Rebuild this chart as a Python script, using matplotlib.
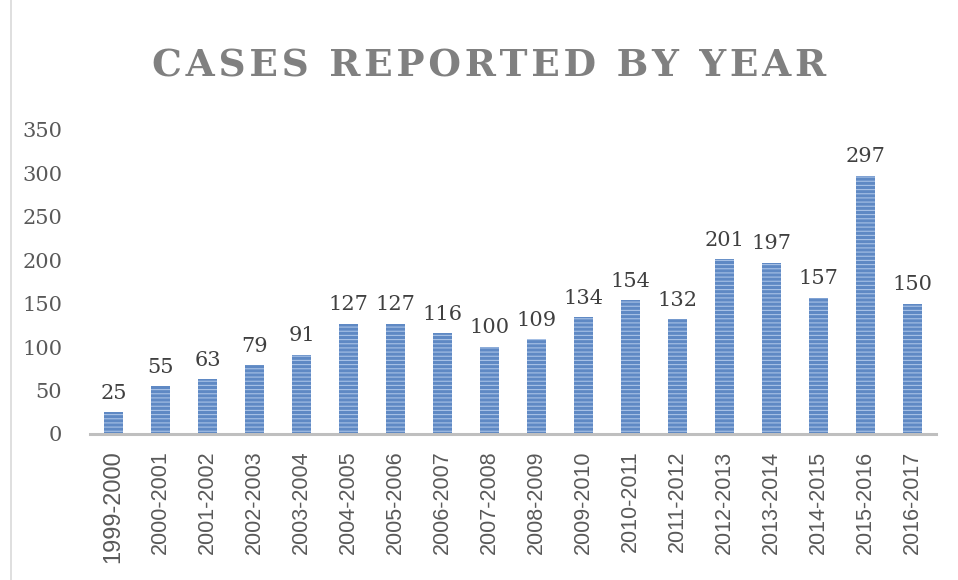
import numpy as np
import matplotlib.pyplot as plt

years = ['1999-2000', '2000-2001', '2001-2002', '2002-2003', '2003-2004', '2004-2005',
         '2005-2006', '2006-2007', '2007-2008', '2008-2009', '2009-2010', '2010-2011',
         '2011-2012', '2012-2013', '2013-2014', '2014-2015', '2015-2016', '2016-2017']
cases = [25, 55, 63, 79, 91, 127, 127, 116, 100, 109, 134, 154, 132, 201, 197, 157, 297, 150]

plt.rcParams['hatch.linewidth'] = 0.8

fig = plt.figure(figsize=(9.58, 5.8), dpi=100)
ax = fig.add_axes([0.094, 0.252, 0.883, 0.524])

x = np.arange(len(years))
bars = ax.bar(x, cases, width=0.41, color='#5f89c4', edgecolor='#a8c2e6',
              hatch='----', linewidth=0)

for xi, v in zip(x, cases):
    ax.text(xi, v + 11, str(v), ha='center', va='bottom', fontsize=15,
            family='DejaVu Serif', color='#404040')

ax.set_xlim(-0.5, len(years) - 0.5)
ax.set_ylim(0, 350)
ax.set_yticks(range(0, 351, 50))
ax.tick_params(axis='y', length=0, pad=20, labelsize=15, labelcolor='#595959')
for lab in ax.get_yticklabels():
    lab.set_family('DejaVu Serif')
ax.set_xticks(x)
ax.set_xticklabels(years, rotation=90, fontsize=15.5, color='#595959',
                   family='Liberation Sans')
ax.get_xticklabels()[0].set_fontsize(17)
ax.tick_params(axis='x', length=0, pad=12)

for s in ['top', 'right', 'left']:
    ax.spines[s].set_visible(False)
ax.spines['bottom'].set_color('#bfbfbf')
ax.spines['bottom'].set_linewidth(2.2)

# spaced-out title
title = '\u2009 '.join('\u200a'.join(w) for w in 'CASES REPORTED BY YEAR'.split())
fig.text(0.511, 0.886, title, ha='center', va='center',
         fontsize=27, fontweight='bold', family='DejaVu Serif', color='#808080')

# chart border on the left
fig.add_artist(plt.Line2D([0.011, 0.011], [0, 1], color='#d9d9d9', lw=1.2))

fig.savefig('out.png', dpi=100)
